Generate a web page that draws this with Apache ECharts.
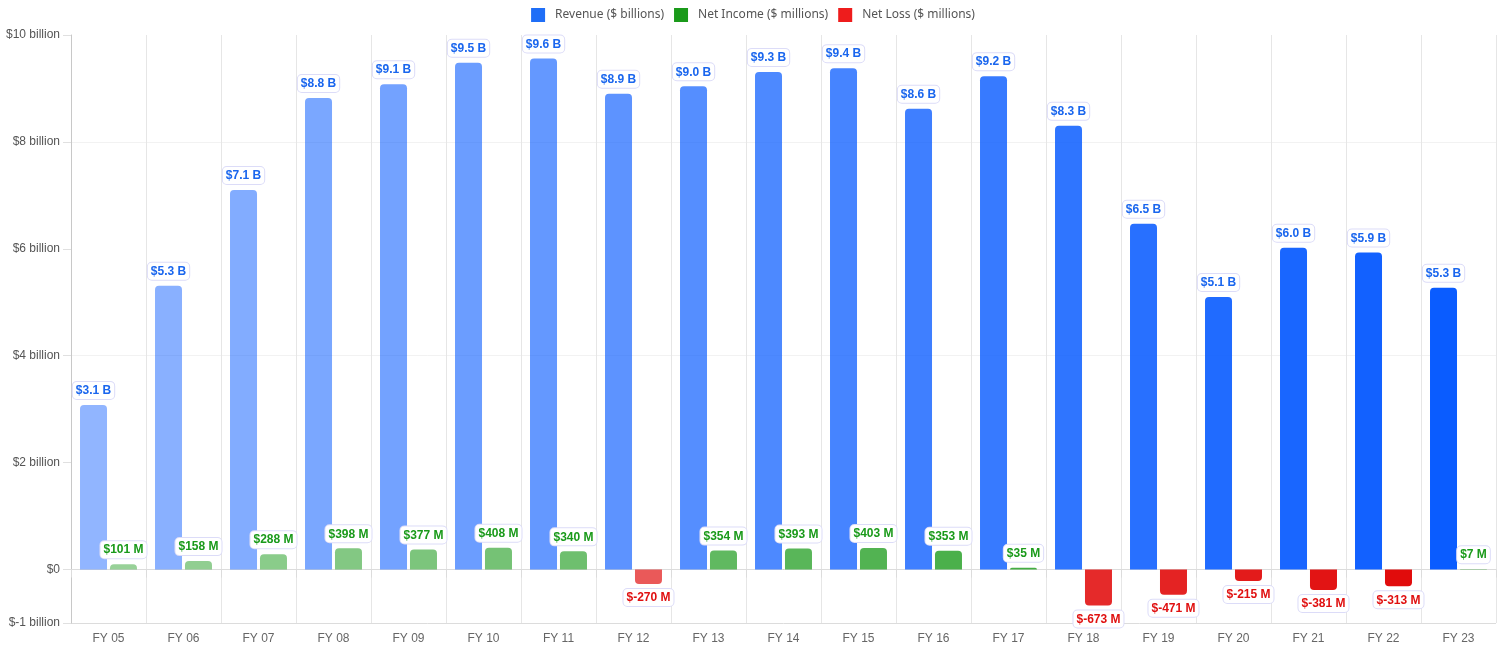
<!DOCTYPE html>
<html>
<head>
<meta charset="utf-8">
<script src="https://cdn.jsdelivr.net/npm/echarts@6/dist/echarts.min.js"></script>
<style>
html,body{margin:0;padding:0;background:#fff;}
#chart{width:1506px;height:659px;}
</style>
</head>
<body>
<div id="chart"></div>
<script>
const categories = ['FY 05','FY 06','FY 07','FY 08','FY 09','FY 10','FY 11','FY 12','FY 13','FY 14','FY 15','FY 16','FY 17','FY 18','FY 19','FY 20','FY 21','FY 22','FY 23'];
// Revenue in $ billions
const revenue = [3.08, 5.31, 7.10, 8.82, 9.08, 9.48, 9.56, 8.90, 9.04, 9.31, 9.38, 8.62, 9.23, 8.30, 6.47, 5.10, 6.02, 5.93, 5.27];
// Net income in $ millions
const netIncome = [101, 158, 288, 398, 377, 408, 340, null, 354, 393, 403, 353, 35, null, null, null, null, null, 7];
// Net loss in $ millions
const netLoss = [null, null, null, null, null, null, null, -270, null, null, null, null, null, -673, -471, -215, -381, -313, null];
// y-axis tick labels
const yTickLabels = {'-1':'$-1 billion','0':'$0','2':'$2 billion','4':'$4 billion','6':'$6 billion','8':'$8 billion','10':'$10 billion'};

const n = categories.length;
function alpha(i){ return 0.45 + 0.55 * i / (n - 1); }
function rgba(rgb, a){ return 'rgba(' + rgb.join(',') + ',' + a.toFixed(3) + ')'; }
const BLUE = [10, 92, 255], GREEN = [26, 154, 26], RED = [224, 4, 4];

const labelBox = {
  backgroundColor: '#fff',
  borderColor: '#dcdcf8',
  borderWidth: 1,
  borderRadius: 4,
  padding: [3, 3, 2, 3],
  fontFamily: 'Liberation Sans, Arial, sans-serif',
  fontWeight: 'bold',
  fontSize: 12
};

const revData = revenue.map((v, i) => ({ value: v, itemStyle: { color: rgba(BLUE, alpha(i)) } }));
const incData = netIncome.map((v, i) => v == null ? null : ({ value: v / 1000, raw: v, itemStyle: { color: rgba(GREEN, alpha(i)) } }));
const lossData = netLoss.map((v, i) => v == null ? null : ({ value: v / 1000, raw: v, itemStyle: { color: rgba(RED, alpha(i)) } }));

const splitColors = [];
for (let v = -1; v <= 10; v++) {
  if (v === -1) splitColors.push('#dcdcdc');
  else if (v === 0) splitColors.push('#8a8a8a');
  else if (v % 2 === 0) splitColors.push('#f2f2f2');
  else splitColors.push('rgba(0,0,0,0)');
}

const chart = echarts.init(document.getElementById('chart'));
chart.setOption({
  animation: false,
  backgroundColor: '#fff',
  legend: {
    top: 3,
    left: 'center',
    itemWidth: 14,
    itemHeight: 14,
    itemGap: 10,
    icon: 'rect',
    textStyle: { color: '#555', fontSize: 12, fontFamily: 'Noto Sans, sans-serif', padding: [0, 0, 0, 5] },
    data: [
      { name: 'Revenue ($ billions)', itemStyle: { color: '#1f6ef7' } },
      { name: 'Net Income ($ millions)', itemStyle: { color: '#1a9a1a' } },
      { name: 'Net Loss ($ millions)', itemStyle: { color: '#ee1c1c' } }
    ]
  },
  grid: { left: 71, right: 10, top: 35, bottom: 36, containLabel: false },
  xAxis: {
    type: 'category',
    data: categories,
    boundaryGap: true,
    axisLine: { show: true, lineStyle: { color: '#dcdcdc' } },
    axisTick: { show: true, length: 8, lineStyle: { color: '#dcdcdc' } },
    splitLine: { show: true, lineStyle: { color: '#e6e6e6' } },
    axisLabel: { color: '#666', fontSize: 12, margin: 10, fontFamily: 'Liberation Sans, Arial, sans-serif' }
  },
  yAxis: {
    type: 'value',
    min: -1,
    max: 10,
    interval: 1,
    axisLine: { show: true, lineStyle: { color: '#c8c8c8' } },
    axisTick: { show: true, length: 8, lineStyle: { color: '#e0e0e0' }, customValues: [-1, 0, 2, 4, 6, 8, 10] },
    splitLine: { show: true, lineStyle: { color: splitColors } },
    axisLabel: {
      color: '#555', fontSize: 12, margin: 11, fontFamily: 'Liberation Sans, Arial, sans-serif',
      formatter: v => yTickLabels[String(v)] || ''
    }
  },
  series: [
    {
      name: 'Revenue ($ billions)',
      type: 'bar',
      barWidth: 27,
      barGap: '11%',
      itemStyle: { borderRadius: [4, 4, 0, 0] },
      label: Object.assign({ show: true, position: 'top', distance: 6, color: '#1a66ee',
        formatter: p => '$' + p.value.toFixed(1) + ' B' }, labelBox),
      data: revData
    },
    {
      name: 'Net Income ($ millions)',
      type: 'bar',
      stack: 'net',
      barWidth: 27,
      itemStyle: { borderRadius: [4, 4, 0, 0] },
      label: Object.assign({ show: true, position: 'top', distance: 6, color: '#1a9a1a',
        formatter: p => '$' + p.data.raw + ' M' }, labelBox),
      data: incData
    },
    {
      name: 'Net Loss ($ millions)',
      type: 'bar',
      stack: 'net',
      barWidth: 27,
      itemStyle: { borderRadius: [0, 0, 4, 4] },
      label: Object.assign({ show: true, position: 'bottom', distance: 5, color: '#e01010',
        formatter: p => '$' + p.data.raw + ' M' }, labelBox),
      data: lossData
    }
  ]
});
</script>
</body>
</html>
